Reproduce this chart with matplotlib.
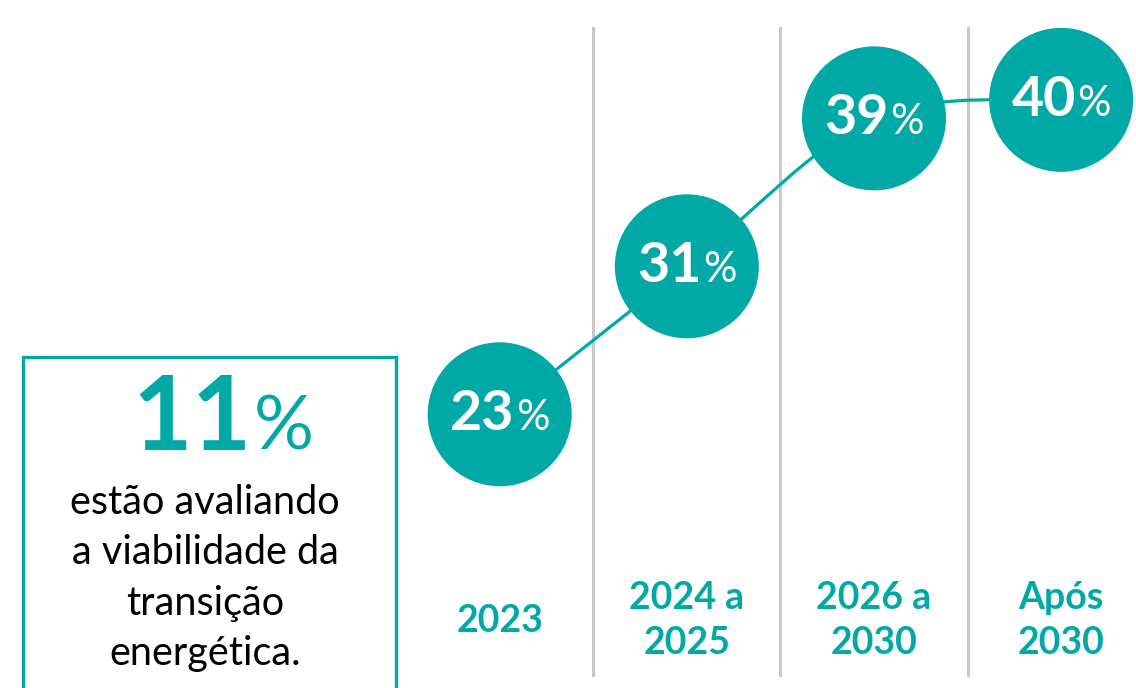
import matplotlib
matplotlib.use("Agg")
import matplotlib.pyplot as plt
from matplotlib.path import Path
from matplotlib.patches import PathPatch, Rectangle
from matplotlib.offsetbox import TextArea, HPacker, AnnotationBbox
import numpy as np

plt.rcParams['font.family'] = ['Lato', 'DejaVu Sans']

# share of companies by expected transition period
periods = ['2023', '2024 a\n2025', '2026 a\n2030', 'Após\n2030']
shares = [23, 31, 39, 40]
evaluating = 11
evaluating_text = 'estão avaliando\na viabilidade da\ntransição\nenergética.'

teal = '#00A9A6'
grid_gray = '#C8C8C8'

fig = plt.figure(figsize=(11.36, 6.88), dpi=100)
ax = fig.add_axes([0, 0, 1, 1])
ax.set_xlim(-2.67, 3.40)
ax.set_ylim(8.2, 45.4)
ax.axis('off')

x = np.arange(len(shares))
y = np.array(shares, dtype=float)

# separators between periods
for sep in x[:-1] + 0.5:
    ax.axvline(sep, ymin=0.019, ymax=0.959, color=grid_gray, lw=2.2, zorder=1)

# smooth connecting line (Catmull-Rom as cubic Bezier)
pts = np.column_stack([x, y])
ext = np.vstack([pts[0], pts, pts[-1]])
verts = [pts[0]]
codes = [Path.MOVETO]
for k in range(len(pts) - 1):
    p0, p1, p2, p3 = ext[k], ext[k + 1], ext[k + 2], ext[k + 3]
    verts += [p1 + (p2 - p0) / 6, p2 - (p3 - p1) / 6, p2]
    codes += [Path.CURVE4] * 3
ax.add_patch(PathPatch(Path(verts, codes), fill=False, ec=teal, lw=2.3, zorder=2))

# bubbles
ax.scatter(x, y, s=10750, color=teal, edgecolors='none', zorder=3)

for xi, yi, v in zip(x, y, shares):
    num = TextArea(str(v), textprops=dict(color='white', fontsize=40, fontweight='bold'))
    pct = TextArea('%', textprops=dict(color='white', fontsize=30))
    box = HPacker(children=[num, pct], align='baseline', pad=0, sep=1)
    ax.add_artist(AnnotationBbox(box, (xi, yi), frameon=False,
                                 box_alignment=(0.5, 0.5), zorder=4))

# period labels
for xi, lab in zip(x, periods):
    ax.text(xi, 0.098, lab, transform=ax.get_xaxis_transform(), ha='center',
            va='center', ma='center', color=teal, fontsize=27, fontweight='bold',
            linespacing=1.42)

# side box
ax.add_patch(Rectangle((0.0202, -0.1), 0.3284, 0.581, transform=ax.transAxes,
                       fill=False, ec=teal, lw=2.4, zorder=2))

big_num = TextArea(str(evaluating), textprops=dict(color=teal, fontsize=74, fontweight='bold'))
big_pct = TextArea('%', textprops=dict(color=teal, fontsize=54))
big = HPacker(children=[big_num, big_pct], align='baseline', pad=0, sep=2)
ax.add_artist(AnnotationBbox(big, (223 / 1136, 1 - 420 / 688), xycoords='axes fraction',
                             frameon=False, box_alignment=(0.5, 0.5)))

ax.text(205 / 1136, 1 - 484 / 688, evaluating_text, transform=ax.transAxes,
        ha='center', va='top', ma='center', fontsize=28.5, color='black',
        linespacing=1.45)

fig.savefig('out.png', dpi=100)
